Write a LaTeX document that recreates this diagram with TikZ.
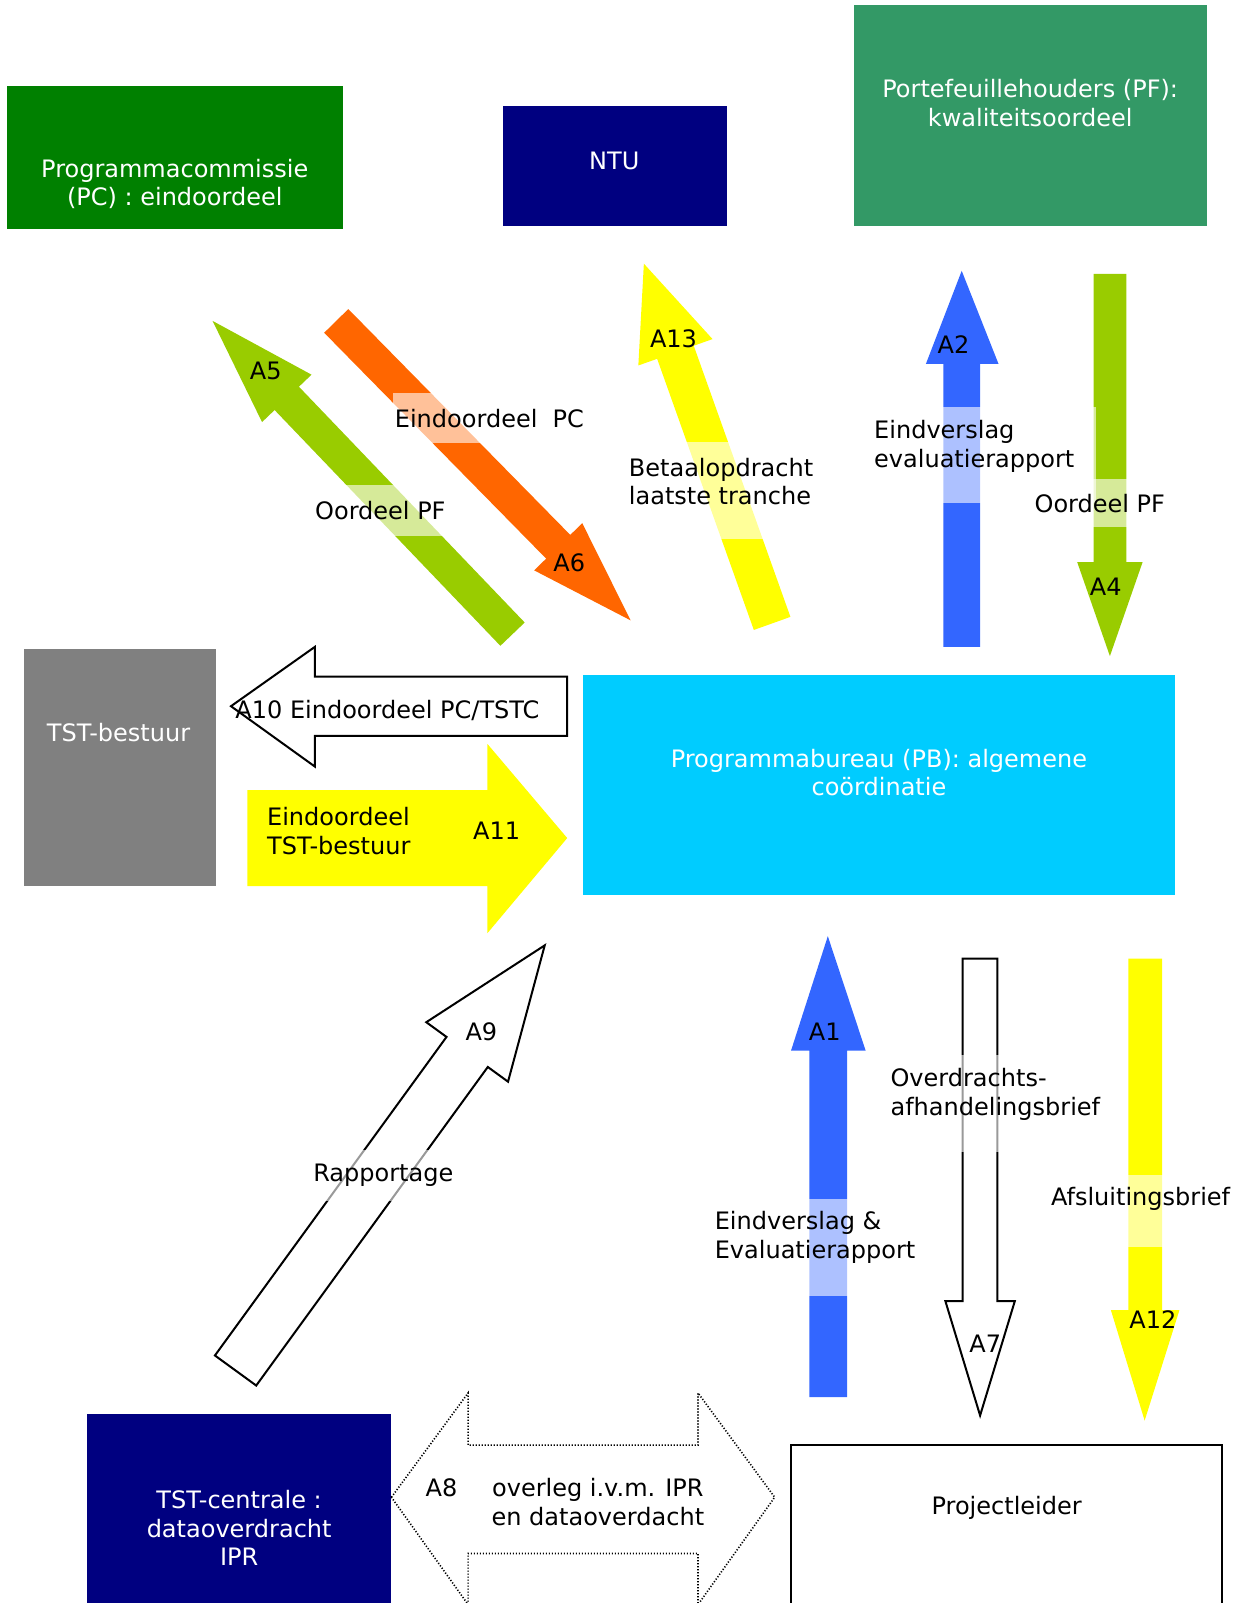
\documentclass[tikz,border=0pt]{standalone}
\usepackage{fontspec}
\setmainfont{DejaVu Sans}
\usepackage{tikz}
\usetikzlibrary{fit}

\definecolor{pcgreen}{HTML}{008000}
\definecolor{ntublue}{HTML}{000080}
\definecolor{pfgreen}{HTML}{339966}
\definecolor{tstgray}{HTML}{808080}
\definecolor{pbcyan}{HTML}{00CCFF}
\definecolor{arrorange}{HTML}{FF6600}
\definecolor{arrgreen}{HTML}{99CC00}
\definecolor{arrblue}{HTML}{3366FF}
\definecolor{arryellow}{HTML}{FFFF00}

\begin{document}
\begin{tikzpicture}[x=0.511pt, y=-0.511pt,
        every node/.style={font=\fontsize{12}{14.3}\selectfont, inner sep=0pt},
        boxtext/.style={text=white, align=center},
        lbl/.style={anchor=west, align=left},
        band/.style={white, opacity=0.6},
        hollow/.style={draw=black, line width=1pt, fill=white}]
        \useasboundingbox (0,0) rectangle (1210.4,1568.5);
        \clip (0,0) rectangle (1210.4,1568.5);

        % Boxes
        \node (pc) [fit={(7,84) (336,224)}, fill=pcgreen] {};
        \node (ntu) [fit={(492,104) (711,221)}, fill=ntublue] {};
        \node (pf) [fit={(836,5) (1181,221)}, fill=pfgreen] {};
        \node (tstb) [fit={(23,635) (211,867)}, fill=tstgray] {};
        \node (pb) [fit={(570,660) (1150,876)}, fill=pbcyan] {};
        \node (tstc) [fit={(85,1384) (383,1580)}, fill=ntublue] {};
        \node (pl) [fit={(774,1414) (1196,1580)}, draw=black, line width=1pt] {};

        \node (pc-txt) [boxtext] at (171,180) {Programmacommissie\\(PC) : eindoordeel};
        \node (ntu-txt) [boxtext] at (601,157) {NTU};
        \node (pf-txt) [boxtext] at (1008,101) {Portefeuillehouders (PF):\\kwaliteitsoordeel};
        \node (tstb-txt) [boxtext] at (116,717) {TST-bestuur};
        \node (pb-txt) [boxtext] at (860,756) {Programmabureau (PB): algemene\\coördinatie};
        \node (tstc-txt) [boxtext] at (234,1495) {TST-centrale :\\dataoverdracht\\IPR};
        \node (pl-txt) at (985,1475) {Projectleider};

        % Arrows
        \fill[arrgreen] (513.4,609.1) -- (292.5,378.4) -- (304.8,366.6) -- (208,314)
            -- (256.4,413.0) -- (268.7,401.2) -- (489.6,631.9) -- cycle;
        \fill[arrorange] (340.8,302.4) -- (558.0,523.4) -- (569.7,511.9) -- (617,607)
            -- (522.7,558.1) -- (534.4,546.6) -- (317.2,325.6) -- cycle;
        \fill[arryellow] (773.4,603.6) -- (678.8,338.3) -- (697.2,331.8) -- (630,258)
            -- (624.6,357.6) -- (643.0,351.1) -- (737.6,616.4) -- cycle;
        \fill[arrblue] (923,633) -- (923,356) -- (906,356) -- (941,265)
            -- (977,356) -- (959,356) -- (959,633) -- cycle;
        \fill[arrgreen] (1070,268) -- (1070,550) -- (1054,550) -- (1086,642)
            -- (1118,550) -- (1102,550) -- (1102,268) -- cycle;
        \draw[hollow] (555,662) -- (308,662) -- (308,633) -- (226,691)
            -- (308,750) -- (308,720) -- (555,720) -- cycle;
        \fill[arryellow] (242,773) -- (477,773) -- (477,728) -- (555,820)
            -- (477,913) -- (477,867) -- (242,867) -- cycle;
        \draw[hollow] (250.7,1355.7) -- (477.3,1044.0) -- (497.1,1058.4) -- (533,925)
            -- (417.1,1000.2) -- (436.9,1014.6) -- (210.3,1326.3) -- cycle;
        \fill[arrblue] (792,1367) -- (792,1028) -- (774,1028) -- (810,916)
            -- (847,1028) -- (829,1028) -- (829,1367) -- cycle;
        \draw[hollow] (942,938) -- (942,1273) -- (925,1273) -- (959,1385)
            -- (993,1273) -- (976,1273) -- (976,938) -- cycle;
        \fill[arryellow] (1104,938) -- (1104,1282) -- (1087,1282) -- (1120,1390)
            -- (1154,1282) -- (1137,1282) -- (1137,938) -- cycle;
        \draw[line width=0.8pt, dash pattern=on 0.6pt off 0.9pt] (383,1465) -- (458,1363)
            -- (458,1414) -- (683,1414) -- (683,1363) -- (758,1465) -- (683,1570)
            -- (683,1520) -- (458,1520) -- (458,1570) -- cycle;

        % Label bands
        \fill[band] (385,385) rectangle (573,433);
        \fill[band] (306,475) rectangle (437,524);
        \fill[band] (612,432) rectangle (794,527);
        \fill[band] (853,398) rectangle (1072,492);
        \fill[band] (1010,469) rectangle (1142,516);
        \fill[band] (697,1173) rectangle (895,1268);
        \fill[band] (869,1032) rectangle (1076,1127);
        \fill[band] (1026,1150) rectangle (1205,1220);
        \fill[band] (305,1125) rectangle (445,1175);

        % Labels
        \node (a5) at (260,363) {A5};
        \node (a6) at (557,551) {A6};
        \node (a13) at (659,331) {A13};
        \node (a2) at (933,337) {A2};
        \node (a4) at (1082,574) {A4};
        \node (a11) at (486,813) {A11};
        \node (a9) at (471,1010) {A9};
        \node (a1) at (807,1010) {A1};
        \node (a7) at (964,1315) {A7};
        \node (a12) at (1128,1291) {A12};

        \node (l-a6) [lbl] at (386,410) {Eindoordeel\ \ PC};
        \node (l-a5) [lbl] at (308,500) {Oordeel PF};
        \node (l-a13) [lbl] at (615,471) {Betaalopdracht\\laatste tranche};
        \node (l-a2) [lbl] at (855,437) {Eindverslag\\evaluatierapport};
        \node (l-a4) [lbl] at (1012,493) {Oordeel PF};
        \node (l-a10) [lbl] at (230,695) {A10 Eindoordeel PC/TSTC};
        \node (l-a11) [lbl] at (261,813) {Eindoordeel\\TST-bestuur};
        \node (l-a9) at (375,1150) {Rapportage};
        \node (l-a7) [lbl] at (871,1071) {Overdrachts-\\afhandelingsbrief};
        \node (l-a12) [lbl] at (1028,1173) {Afsluitingsbrief};
        \node (l-a1) [lbl] at (699,1211) {Eindverslag \&\\Evaluatierapport};
        \node (a8) at (432,1456) {A8};
        \node (l-a8) [align=center] at (585,1470) {overleg i.v.m. IPR\\en dataoverdacht};
    \end{tikzpicture}
\end{document}
